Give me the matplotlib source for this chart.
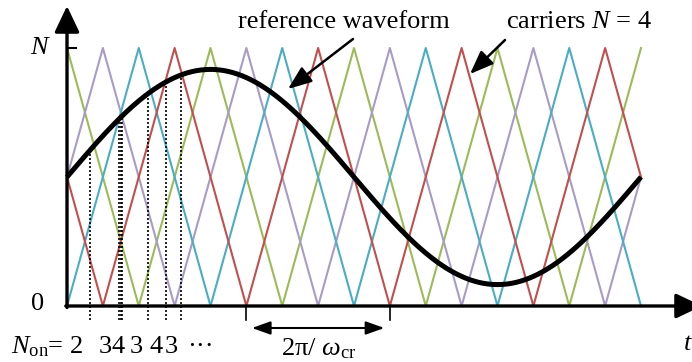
import numpy as np
import matplotlib.pyplot as plt

plt.rcParams['font.family'] = 'Liberation Serif'
plt.rcParams['mathtext.fontset'] = 'custom'
plt.rcParams['mathtext.rm'] = 'Liberation Serif'
plt.rcParams['mathtext.it'] = 'Liberation Serif:italic'

# %% data (time in carrier periods, level in units of N)
carrier_names = ["green", "purple", "cyan", "red"]
carrier_peak_offset = [0.0, 0.25, 0.5, 0.75]   # time of first peak
carrier_colors = ["#9BBB59", "#A89BC8", "#4BACC6", "#C0504D"]
n_periods = 4

ref_offset = 0.5
ref_amplitude = 0.417

switch_t = [0.160, 0.362, 0.374, 0.385, 0.564, 0.688, 0.794]
n_on_labels = ["2", "3", "4", "3", "4", "3", "···"]
n_on_px = [76.5, 105, 118.5, 136, 156.5, 171.5, 200]

period_start = 1.25
period_end = 2.25

# %% pixel helper (67 px = t 0, 306 px = level 0)
PX_PER_T = 143.5
PX_PER_N = 258.0
FS = 19


def P(x, y):
    return ((x - 67) / PX_PER_T, (306 - y) / PX_PER_N)


fig = plt.figure(figsize=(6.92, 3.62), dpi=100)
ax = fig.add_axes([67 / 692, 56 / 362, 625 / 692, 298 / 362])
ax.set_xlim(0, 625 / PX_PER_T)
ax.set_ylim(0, 298 / PX_PER_N)
ax.axis('off')

# carriers: triangle waves between 0 and 1
t = np.linspace(0, n_periods, 4001)
for off, col in zip(carrier_peak_offset, carrier_colors):
    k = np.arange(-2, n_periods + 2)
    vt = np.sort(np.concatenate([off + k, off + k + 0.5]))
    vv = np.where(np.isin(vt, off + k), 1.0, 0.0)
    ax.plot(t, np.interp(t, vt, vv), color=col, lw=1.5, clip_on=False)

# reference waveform
ref = ref_offset + ref_amplitude * np.sin(2 * np.pi * t / n_periods)
ax.plot(t, ref, color='black', lw=3.6, clip_on=False, solid_capstyle='butt')

# dotted switching instants
st = np.array(switch_t)
ax.vlines(st, P(0, 320)[1], ref_offset + ref_amplitude * np.sin(2 * np.pi * st / n_periods),
          colors='black', linestyles=(0, (1.2, 1.2)), lw=1.2, clip_on=False)

# axes with arrows
ax.annotate('', xy=P(67, 6), xytext=P(67, 307.5), annotation_clip=False,
            arrowprops=dict(arrowstyle='-|>,head_length=0.8,head_width=0.38',
                            mutation_scale=20, lw=2.4, color='black', shrinkA=0, shrinkB=0))
ax.annotate('', xy=P(702, 306), xytext=P(65.8, 306), annotation_clip=False,
            arrowprops=dict(arrowstyle='-|>,head_length=0.8,head_width=0.38',
                            mutation_scale=20, lw=2.4, color='black', shrinkA=0, shrinkB=0))
ax.plot([0, 9 / PX_PER_T], [1, 1], color='black', lw=1.5, clip_on=False)

ax.text(*P(39, 48), "N", style='italic', fontsize=FS, ha='center', va='center')
ax.text(*P(38, 304), "0", fontsize=FS, ha='center', va='center')
ax.text(*P(691, 344), "t", style='italic', fontsize=FS, ha='right', va='center')

# period marker
for tp in (period_start, period_end):
    ax.plot([tp, tp], [0, P(0, 320)[1]], color='black', lw=1.2, clip_on=False)
yarr = P(0, 328)[1]
ax.annotate('', xy=(period_end, yarr), xytext=(period_start, yarr), annotation_clip=False,
            arrowprops=dict(arrowstyle='<|-|>,head_length=0.7,head_width=0.25',
                            mutation_scale=16, lw=1.5, color='black', shrinkA=4, shrinkB=4))
ax.text(*P(319, 349), r"2π/ $\omega_{\mathrm{cr}}$", fontsize=FS, ha='center', va='center')

# N_on labels
ax.text(*P(11, 347), r"$N_{\mathrm{on}}$=", fontsize=FS, ha='left', va='center')
for lab, xp in zip(n_on_labels, n_on_px):
    ax.text(*P(xp, 347), lab, fontsize=FS, ha='center', va='center')

# annotations
ax.text(*P(344, 22), "reference waveform", fontsize=FS, ha='center', va='center')
ax.annotate('', xy=P(288, 89), xytext=P(353, 39), annotation_clip=False,
            arrowprops=dict(arrowstyle='-|>,head_length=0.9,head_width=0.35',
                            mutation_scale=16, lw=1.8, color='black', shrinkA=0, shrinkB=0))
ax.text(*P(579, 22), "carriers $N$ = 4", fontsize=FS, ha='center', va='center')
ax.annotate('', xy=P(470, 74), xytext=P(505, 40), annotation_clip=False,
            arrowprops=dict(arrowstyle='-|>,head_length=0.9,head_width=0.35',
                            mutation_scale=16, lw=1.8, color='black', shrinkA=0, shrinkB=0))

fig.savefig("out.png", dpi=100)
